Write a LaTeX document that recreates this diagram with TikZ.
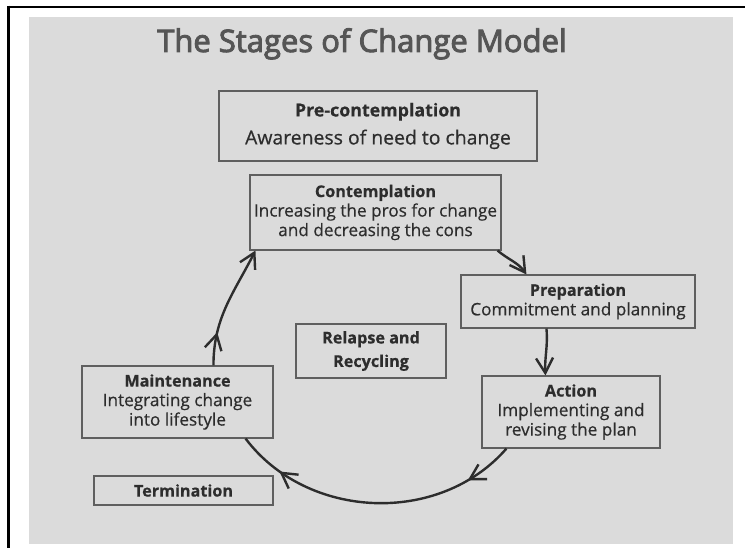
\documentclass[tikz,border=0pt]{standalone}
\usepackage{fontspec}
\setmainfont{Open Sans}
\newfontfamily\titlefont[FakeBold=3]{Open Sans}
\newfontfamily\bodyfont[FakeBold=0.5]{Open Sans}
\usetikzlibrary{arrows.meta,decorations.markings}
\definecolor{bggray}{RGB}{219,219,219}
\definecolor{ink}{RGB}{45,45,45}
\definecolor{titlegray}{RGB}{85,85,85}
\definecolor{boxline}{RGB}{95,95,95}
\newcommand{\lbl}[1]{{\fontsize{16.2}{20}\selectfont\bfseries #1}}
\begin{document}
\begin{tikzpicture}[x=1pt,y=1pt,
  stage/.style={draw=boxline, line width=1.1pt, text=ink, align=center, inner sep=0pt,
    font=\bodyfont\fontsize{17.2}{19.5}\selectfont},
  conn/.style={draw=ink, line width=2.4pt},
  barb/.tip={Straight Barb[length=15pt,width=17pt]},
  twomarks/.style 2 args={postaction={decorate}, decoration={markings,
    mark=at position #1 with {\arrow{barb}},
    mark=at position #2 with {\arrow{barb}}}},
  onemark/.style={postaction={decorate}, decoration={markings,
    mark=at position #1 with {\arrow{barb}}}}]
\useasboundingbox (0,0) rectangle (745,548);
\fill[white] (0,0) rectangle (745,548);
\fill[bggray] (29,4) rectangle (733,531);
\draw[black, line width=2.5pt] (8,541) -- (745,541);
\draw[black, line width=3pt] (8.5,542.25) -- (8.5,0);

\node[font=\titlefont\fontsize{31}{34}\selectfont, text=titlegray, anchor=base] (title) at (362,496) {The Stages of Change Model};

\node[stage, minimum width=318pt, minimum height=70pt, font=\bodyfont\fontsize{19.4}{21}\selectfont] (pre) at (378,422)
  {{\fontsize{17.8}{20}\selectfont\bfseries Pre-contemplation}\\[7pt] Awareness of need to change};
\node[stage, minimum width=251pt, minimum height=75pt] (cont) at (375.5,335.5)
  {\lbl{Contemplation}\\ Increasing the pros for change\\ and decreasing the cons};
\node[stage, minimum width=234pt, minimum height=53pt] (prep) at (578,246.5)
  {\lbl{Preparation}\\ Commitment and planning};
\node[stage, minimum width=150pt, minimum height=54pt] (relapse) at (371,197)
  {\lbl{Relapse and}\\[4pt] \lbl{Recycling}};
\node[stage, minimum width=178pt, minimum height=72pt] (action) at (571,136)
  {\lbl{Action}\\ Implementing and\\ revising the plan};
\node[stage, minimum width=191pt, minimum height=72pt] (maint) at (177.5,146)
  {\lbl{Maintenance}\\ Integrating change\\ into lifestyle};
\node[stage, minimum width=179pt, minimum height=29pt] (term) at (183.5,57.5)
  {\lbl{Termination}};

\draw[conn, -barb] ([xshift=-4pt]cont.south east) to[out=-40,in=125] ([xshift=66pt]prep.north west);
\draw[conn, -barb] ([xshift=86pt]prep.south west) to[out=-85,in=93] ([xshift=64pt]action.north west);
\draw[conn, twomarks={0.17}{0.84}] ([xshift=25pt]action.south west) to[out=-131,in=-53] ([xshift=-28pt]maint.south east);
\draw[conn, -barb, onemark=0.27] ([xshift=132pt]maint.north west) to[out=90,in=-117] ([xshift=6pt]cont.south west);
\end{tikzpicture}
\end{document}
